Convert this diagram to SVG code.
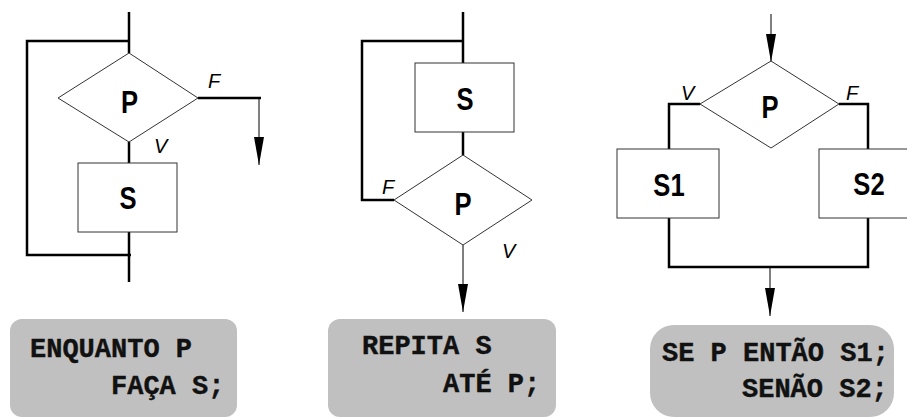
<svg xmlns="http://www.w3.org/2000/svg" width="907" height="418" viewBox="0 0 907 418">
<style>
.thick{fill:none;stroke:#000;stroke-width:2.5}
.thin{fill:none;stroke:#000;stroke-width:1}
.shape{fill:#fff;stroke:#333;stroke-width:1}
.big{font-family:"Liberation Sans",Arial,sans-serif;font-weight:bold;font-size:32px;text-anchor:middle;fill:#000}
.lbl{font-family:"Liberation Sans",Arial,sans-serif;font-style:italic;font-size:20px;fill:#000}
.code{font-family:"Liberation Mono","Courier New",monospace;font-weight:bold;font-size:27px;fill:#111;stroke:#111;stroke-width:0.4;white-space:pre}
.box{fill:#c0c0c0;stroke:none}
</style>
<defs>
<marker id="arr" viewBox="0 -5 28 10" refX="28" refY="0" markerWidth="28" markerHeight="10" markerUnits="userSpaceOnUse" orient="auto">
<path d="M0,-5 L28,0 L0,5 Z" fill="#000"/>
</marker>
</defs>
<g id="connectors">
<path class="thick" d="M129,12 V53"/>
<path class="thick" d="M129,41 H27 V255 H131"/>
<path class="thick" d="M129,142 V163"/>
<path class="thick" d="M129,232 V282"/>
<path class="thick" d="M198,98 H261"/>
<path class="thin" d="M259,98 V165" marker-end="url(#arr)"/>
<path class="thick" d="M463,12 V63"/>
<path class="thick" d="M463,41 H362 V200 H394"/>
<path class="thick" d="M463,132 V155"/>
<path class="thin" d="M463,245 V312" marker-end="url(#arr)"/>
<path class="thin" d="M771,14 V62" marker-end="url(#arr)"/>
<path class="thick" d="M700,104 H669 V149"/>
<path class="thick" d="M839,104 H868 V149"/>
<path class="thick" d="M669,218 V267 H868 V218"/>
<path class="thin" d="M770,267 V316" marker-end="url(#arr)"/>
</g>
<g id="p1">
<polygon class="shape" points="129,53 198,98 129,142 58,98"/>
<text class="big" transform="translate(129.5,113) scale(0.8,1)">P</text>
</g>
<g id="s1box">
<rect class="shape" x="78" y="163" width="99" height="69"/>
<text class="big" transform="translate(128,209) scale(0.8,1)">S</text>
</g>
<g id="labels1">
<text class="lbl" x="208" y="88">F</text>
<text class="lbl" x="154" y="153">V</text>
</g>
<g id="s2box">
<rect class="shape" x="415" y="63" width="99" height="69"/>
<text class="big" transform="translate(465,110) scale(0.8,1)">S</text>
</g>
<g id="p2">
<polygon class="shape" points="463,155 532,200 463,245 394,200"/>
<text class="big" transform="translate(463,215) scale(0.8,1)">P</text>
</g>
<g id="labels2">
<text class="lbl" x="382" y="194">F</text>
<text class="lbl" x="502" y="258">V</text>
</g>
<g id="p3">
<polygon class="shape" points="771,61 839,104 771,148 700,104"/>
<text class="big" transform="translate(770,118) scale(0.8,1)">P</text>
</g>
<g id="s1">
<rect class="shape" x="617" y="149" width="102" height="69"/>
<text class="big" transform="translate(669,196) scale(0.8,1)">S1</text>
</g>
<g id="s2">
<rect class="shape" x="819" y="149" width="102" height="69"/>
<text class="big" transform="translate(869,195) scale(0.8,1)">S2</text>
</g>
<g id="labels3">
<text class="lbl" x="681" y="100">V</text>
<text class="lbl" x="846" y="100">F</text>
</g>
<g id="code1">
<rect class="box" x="10" y="319" width="227" height="98" rx="12"/>
<text class="code" x="30" y="357">ENQUANTO P</text>
<text class="code" x="111" y="394">FAÇA S;</text>
</g>
<g id="code2">
<rect class="box" x="328" y="319" width="228" height="98" rx="12"/>
<text class="code" x="362" y="354">REPITA S</text>
<text class="code" x="443" y="392">ATÉ P;</text>
</g>
<g id="code3">
<rect class="box" x="650" y="325" width="244" height="92" rx="24"/>
<text class="code" x="662" y="361">SE P ENTÃO S1;</text>
<text class="code" x="742" y="397">SENÃO S2;</text>
</g>
</svg>
